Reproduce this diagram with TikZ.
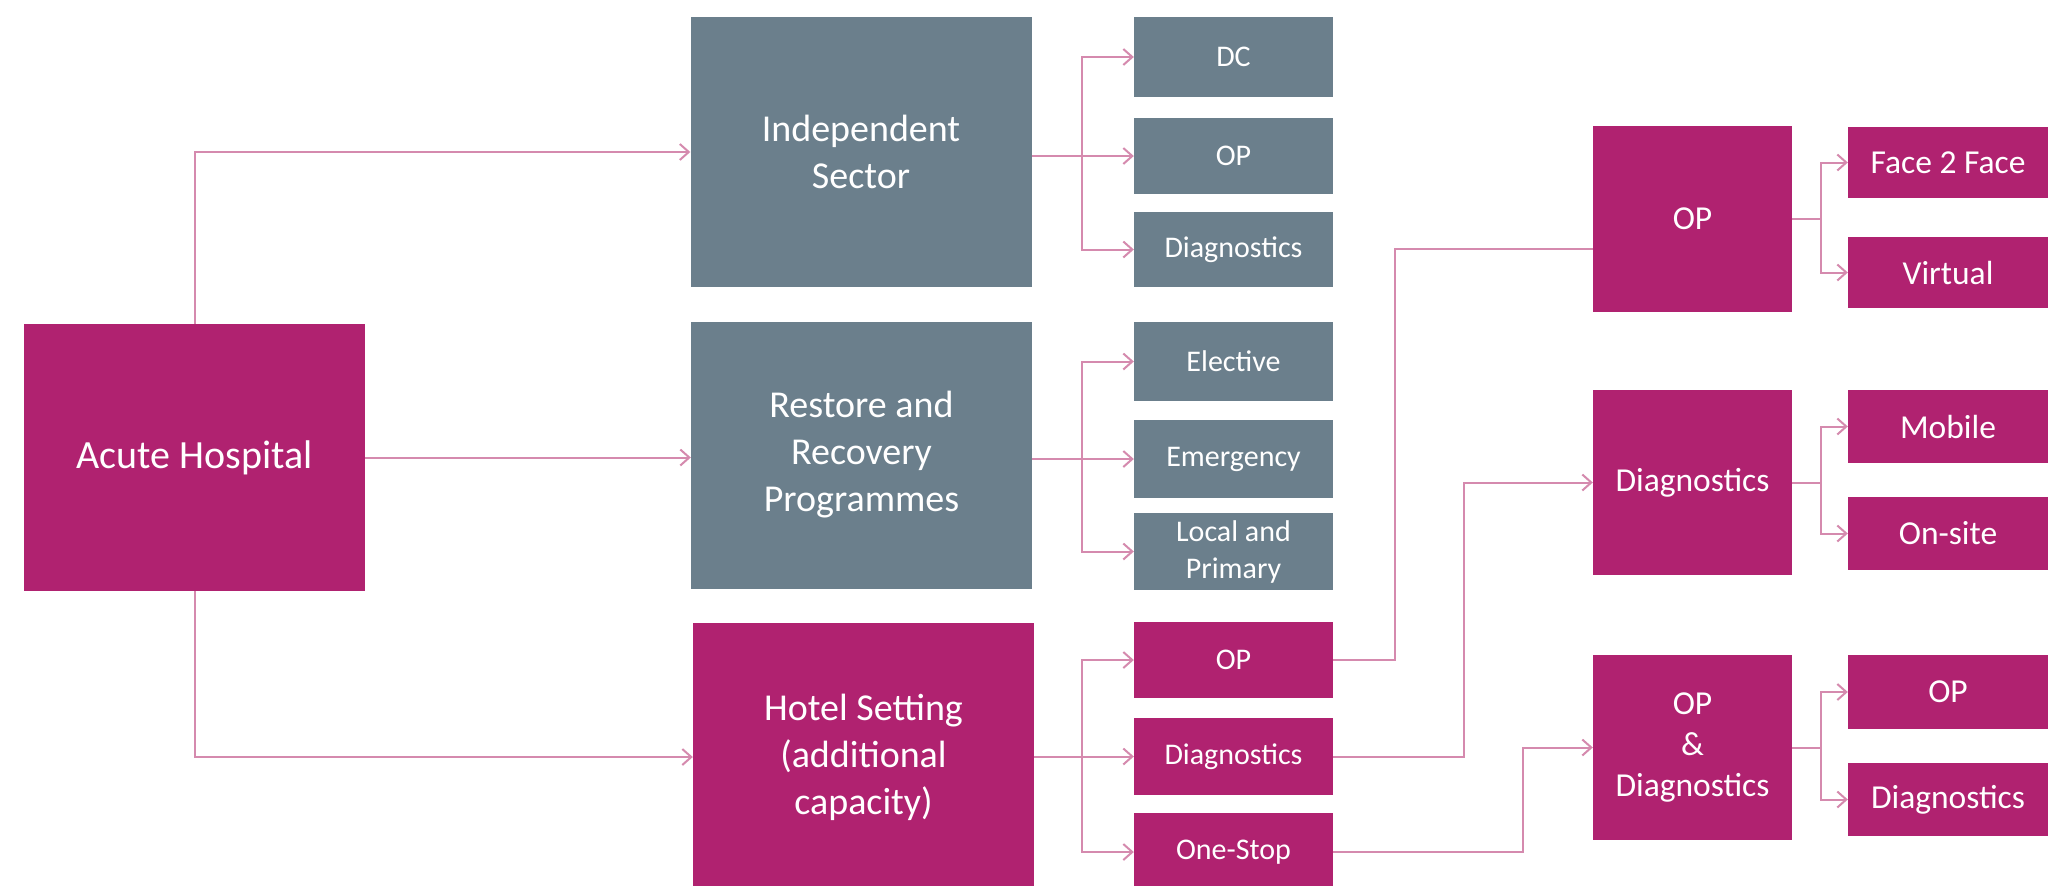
\documentclass[tikz,border=0pt]{standalone}
\usepackage{fontspec}
\setmainfont{Carlito}
\usetikzlibrary{arrows.meta}
\definecolor{magc}{HTML}{B02270}
\definecolor{slatec}{HTML}{6B7F8C}
\definecolor{wirec}{HTML}{D58AAE}
\begin{document}
\begin{tikzpicture}[x=1pt,y=-1pt,
  base/.style={inner sep=0pt, text=white, align=center},
  magbox/.style={base, fill=magc},
  slatebox/.style={base, fill=slatec},
  bigbox/.style={minimum width=341pt, minimum height=267pt, font=\fontsize{38}{47}\selectfont},
  midbox/.style={minimum width=199pt, minimum height=78pt, font=\fontsize{30}{37}\selectfont},
  rbig/.style={minimum width=199pt, minimum height=186pt, font=\fontsize{33.5}{41}\selectfont},
  rsmall/.style={minimum width=200pt, minimum height=73pt, font=\fontsize{33.5}{40}\selectfont},
  plainline/.style={draw=wirec, line width=2pt},
  conn/.style={plainline, -{Straight Barb[length=9pt,width=16pt,line width=2pt]}}]
\useasboundingbox (0,0) rectangle (2048,886);
\fill[white] (0,0) rectangle (2048,886);
% main column
\node[magbox,bigbox,font=\fontsize{40}{48}\selectfont] (acute) at (194.5,457.5) {Acute Hospital};
\node[slatebox,bigbox,minimum height=270pt] (indep) at (861,152) {Independent\\Sector};
\node[slatebox,bigbox] (restore) at (861.5,455) {Restore and\\Recovery\\Programmes};
\node[magbox,bigbox,minimum height=268pt] (hotel) at (863.5,757) {Hotel Setting\\(additional\\capacity)};
% middle column
\node[slatebox,midbox,minimum height=80pt] (dc) at (1233.5,57) {DC};
\node[slatebox,midbox,minimum height=76pt] (iop) at (1233.5,156) {OP};
\node[slatebox,midbox,minimum height=75pt] (idg) at (1233.5,249.5) {Diagnostics};
\node[slatebox,midbox,minimum height=79pt] (el) at (1233.5,361.5) {Elective};
\node[slatebox,midbox] (em) at (1233.5,459) {Emergency};
\node[slatebox,midbox,minimum height=77pt] (lp) at (1233.5,551.5) {Local and\\Primary};
\node[magbox,midbox,minimum height=76pt] (hop) at (1233.5,660) {OP};
\node[magbox,midbox,minimum height=77pt] (hdg) at (1233.5,756.5) {Diagnostics};
\node[magbox,midbox] (hos) at (1233.5,852) {One-Stop};
% right big column
\node[magbox,rbig] (bop) at (1692.5,219) {OP};
\node[magbox,rbig,minimum height=185pt] (bdg) at (1692.5,482.5) {Diagnostics};
\node[magbox,rbig,minimum height=185pt] (opd) at (1692.5,747.5) {OP\\\&\\Diagnostics};
% rightmost column
\node[magbox,rsmall,minimum height=71pt] (f2f) at (1948,162.5) {Face 2 Face};
\node[magbox,rsmall,minimum height=71pt] (vir) at (1948,272.5) {Virtual};
\node[magbox,rsmall] (mob) at (1948,426.5) {Mobile};
\node[magbox,rsmall] (ons) at (1948,533.5) {On-site};
\node[magbox,rsmall,minimum height=74pt] (rop) at (1948,692) {OP};
\node[magbox,rsmall] (rdg) at (1948,799.5) {Diagnostics};
% helper coordinates
\coordinate (b1) at (1082,0);
\coordinate (b2) at (1821,0);
\coordinate (j1) at (1395,249);
\coordinate (j2) at (1464,0);
\coordinate (j3) at (1523,0);
% acute hospital
\draw[conn] (acute.north) |- (indep.west);
\draw[conn] (acute.east) -- (acute.east -| restore.west);
\draw[conn] (acute.south) |- (hotel.west);
% independent sector
\draw[conn] (indep.east |- iop) -- (iop.west);
\draw[conn] (b1 |- iop) |- (dc.west);
\draw[conn] (b1 |- iop) |- (idg.west);
% restore and recovery
\draw[conn] (restore.east |- em) -- (em.west);
\draw[conn] (b1 |- em) |- (el.west);
\draw[conn] (b1 |- em) |- (lp.west);
% hotel setting
\draw[conn] (hotel.east |- hdg) -- (hdg.west);
\draw[conn] (b1 |- hdg) |- (hop.west);
\draw[conn] (b1 |- hdg) |- (hos.west);
% cross links
\draw[plainline] (hop.east) -| (j1) -- (j1 -| bop.west);
\draw[conn] (hdg.east) -| (j2 |- bdg) -- (bdg.west);
\draw[conn] (hos.east) -| (j3 |- opd) -- (opd.west);
% right branches
\draw[plainline] (bop.east) -- (b2 |- bop);
\draw[conn] (b2 |- bop) |- (f2f.west);
\draw[conn] (b2 |- bop) |- (vir.west);
\draw[plainline] (bdg.east) -- (b2 |- bdg);
\draw[conn] (b2 |- bdg) |- (mob.west);
\draw[conn] (b2 |- bdg) |- (ons.west);
\draw[plainline] (opd.east) -- (b2 |- opd);
\draw[conn] (b2 |- opd) |- (rop.west);
\draw[conn] (b2 |- opd) |- (rdg.west);
\end{tikzpicture}
\end{document}
